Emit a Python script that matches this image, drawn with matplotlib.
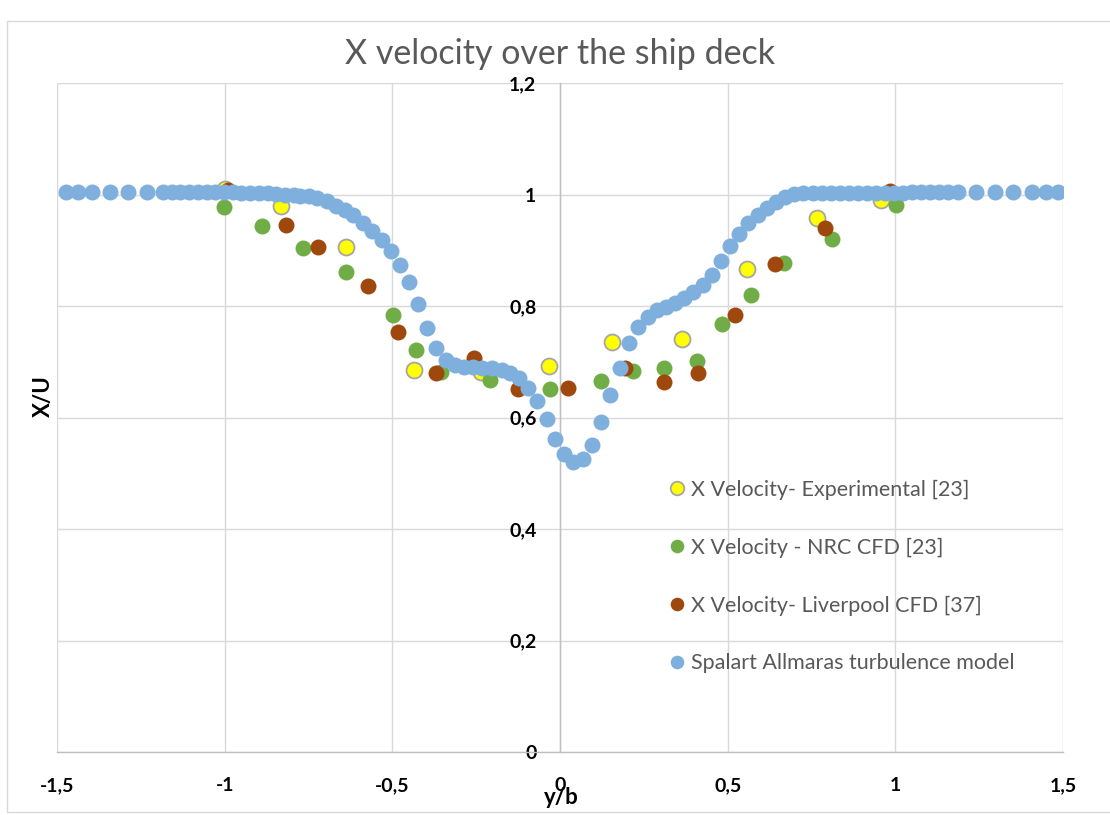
import matplotlib
matplotlib.use("Agg")
import matplotlib.pyplot as plt
from matplotlib.patches import Rectangle

plt.rcParams['font.family'] = ['Lato', 'DejaVu Sans']

# Experimental [23]
exp_x = [-0.998, -0.833, -0.637, -0.436, -0.236, -0.033, 0.154, 0.365, 0.559, 0.766, 0.957]
exp_y = [1.010, 0.979, 0.905, 0.686, 0.682, 0.692, 0.735, 0.740, 0.866, 0.958, 0.990]

# NRC CFD [23]
nrc_x = [-1.002, -0.888, -0.766, -0.639, -0.499, -0.430, -0.355, -0.210, -0.030,
         0.121, 0.218, 0.311, 0.410, 0.482, 0.571, 0.667, 0.811, 1.002]
nrc_y = [0.978, 0.944, 0.904, 0.861, 0.783, 0.721, 0.682, 0.668, 0.652,
         0.666, 0.683, 0.688, 0.702, 0.768, 0.820, 0.877, 0.921, 0.982]

# Liverpool CFD [37]
liv_x = [-0.990, -0.818, -0.721, -0.574, -0.483, -0.370, -0.256, -0.124, 0.025,
         0.195, 0.311, 0.412, 0.522, 0.642, 0.791, 0.985]
liv_y = [1.008, 0.946, 0.906, 0.836, 0.753, 0.680, 0.707, 0.652, 0.653,
         0.688, 0.663, 0.680, 0.784, 0.876, 0.940, 1.006]

# Spalart Allmaras model
sa_x = [-1.473, -1.438, -1.396, -1.341, -1.287, -1.232,
        -1.184, -1.158, -1.132, -1.106, -1.080, -1.054, -1.028, -1.002, -0.976,
        -0.950, -0.924, -0.898, -0.872, -0.846, -0.820, -0.794, -0.776, -0.750,
        -0.726, -0.696, -0.667, -0.642, -0.617, -0.587, -0.560, -0.532, -0.505,
        -0.478, -0.451, -0.423, -0.396, -0.369, -0.341, -0.313, -0.287, -0.260,
        -0.232, -0.203, -0.174, -0.149, -0.121, -0.095, -0.070, -0.040, -0.015,
        0.013, 0.040, 0.068, 0.095, 0.122, 0.149, 0.178, 0.206, 0.233, 0.262,
        0.289, 0.316, 0.343, 0.371, 0.398, 0.426, 0.453, 0.481, 0.507, 0.534,
        0.562, 0.590, 0.617, 0.645, 0.672, 0.699, 0.726, 0.753, 0.780, 0.807,
        0.834, 0.861, 0.888, 0.915, 0.942, 0.969, 0.996, 1.023, 1.050, 1.077,
        1.104, 1.131, 1.158, 1.188,
        1.240, 1.296, 1.351, 1.407, 1.448, 1.485]
sa_y = [1.004, 1.004, 1.004, 1.004, 1.004, 1.004,
        1.004, 1.004, 1.004, 1.004, 1.004, 1.004, 1.004, 1.004, 1.004,
        1.003, 1.003, 1.002, 1.002, 1.001, 1.000, 0.999, 0.998, 0.997,
        0.994, 0.989, 0.980, 0.973, 0.964, 0.949, 0.934, 0.918, 0.898,
        0.873, 0.843, 0.804, 0.761, 0.724, 0.703, 0.694, 0.690, 0.690,
        0.689, 0.688, 0.685, 0.679, 0.671, 0.653, 0.629, 0.597, 0.562,
        0.534, 0.520, 0.526, 0.550, 0.592, 0.641, 0.689, 0.733, 0.763, 0.780,
        0.792, 0.798, 0.805, 0.815, 0.825, 0.837, 0.855, 0.880, 0.907, 0.929,
        0.949, 0.964, 0.976, 0.986, 0.995, 1.001, 1.003, 1.003, 1.003, 1.003,
        1.003, 1.003, 1.003, 1.003, 1.003, 1.003, 1.003, 1.003, 1.004, 1.004,
        1.004, 1.004, 1.004, 1.004,
        1.004, 1.004, 1.004, 1.004, 1.004, 1.004]

x_ticks = [-1.5, -1, -0.5, 0, 0.5, 1, 1.5]
x_tick_labels = ['-1,5', '-1', '-0,5', '0', '0,5', '1', '1,5']
y_ticks = [0, 0.2, 0.4, 0.6, 0.8, 1, 1.2]
y_tick_labels = ['0', '0,2', '0,4', '0,6', '0,8', '1', '1,2']

W, H = 1110, 815
fig = plt.figure(figsize=(W / 100, H / 100), dpi=100)
ax = fig.add_axes([57 / W, 1 - 752 / H, (1063 - 57) / W, (752 - 83) / H])

# axis lines first: moving a spine resets the tick setup
for s in ['top', 'right']:
    ax.spines[s].set_visible(False)
ax.spines['left'].set_position(('data', 0))
ax.spines['left'].set_color('#BFBFBF')
ax.spines['bottom'].set_color('#BFBFBF')
ax.spines['left'].set_linewidth(1.0)
ax.spines['bottom'].set_linewidth(1.0)

ms = 11.5
ax.plot(exp_x, exp_y, 'o', ms=ms, mfc='#FFFF00', mec='#A5A5A5', mew=1.3,
        label='X Velocity- Experimental [23]', zorder=3)
ax.plot(nrc_x, nrc_y, 'o', ms=ms, mfc='#70AD47', mec='#70AD47', mew=0,
        label='X Velocity - NRC CFD [23]', zorder=4)
ax.plot(liv_x, liv_y, 'o', ms=ms, mfc='#9E480E', mec='#9E480E', mew=0,
        label='X Velocity- Liverpool CFD [37]', zorder=5)
ax.plot(sa_x, sa_y, 'o', ms=ms, mfc='#7EAFDD', mec='#7EAFDD', mew=0,
        label='Spalart Allmaras turbulence model', zorder=6)

ax.set_xlim(-1.5, 1.5)
ax.set_ylim(0, 1.2)
ax.set_xticks(x_ticks)
ax.set_xticklabels(x_tick_labels, fontweight='bold', fontsize=14)
ax.set_yticks(y_ticks)
ax.set_yticklabels(y_tick_labels, fontweight='bold', fontsize=14)
ax.tick_params(axis='both', length=0)
ax.tick_params(axis='x', pad=18)
ax.tick_params(axis='y', pad=17)

ax.grid(True, color='#D9D9D9', linewidth=1.0, zorder=0)
ax.set_axisbelow(True)

fig.text(560 / W, 1 - 54 / H, 'X velocity over the ship deck', ha='center', va='center',
         fontsize=24.5, color='#595959')
fig.text(43 / W, 1 - 396 / H, 'X/U', rotation=90, ha='center', va='center',
         fontsize=16, fontweight='bold')
fig.text(561 / W, 1 - 798 / H, 'y/b', ha='center', va='center',
         fontsize=16, fontweight='bold')

leg = ax.legend(loc='upper left', bbox_to_anchor=(660 / W, 1 - 469 / H),
                bbox_transform=fig.transFigure, frameon=False, fontsize=15.5,
                labelcolor='#595959', markerscale=0.85, handlelength=0.6,
                handletextpad=0.35, labelspacing=1.75, borderpad=0)

fig.patches.append(Rectangle((7 / W, 3 / H), 1.2, 1 - 24 / H, transform=fig.transFigure,
                             fill=False, edgecolor='#D9D9D9', linewidth=1.0))

fig.savefig('out.png', dpi=100)
